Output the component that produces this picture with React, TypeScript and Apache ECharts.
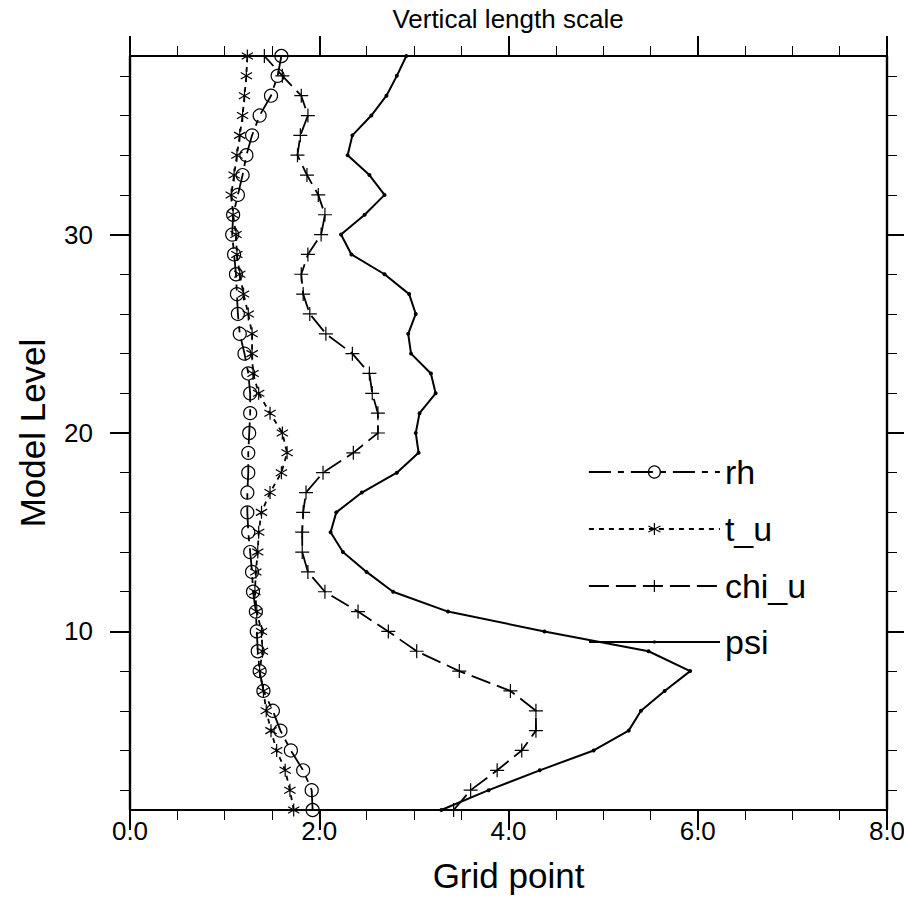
import React, { useEffect, useRef } from 'react';
import * as echarts from 'echarts';

const levels = [1, 2, 3, 4, 5, 6, 7, 8, 9, 10, 11, 12, 13, 14, 15, 16, 17, 18, 19, 20, 21, 22, 23, 24, 25, 26, 27, 28, 29, 30, 31, 32, 33, 34, 35, 36, 37, 38, 39];
const rh = [1.93, 1.92, 1.83, 1.70, 1.59, 1.51, 1.41, 1.37, 1.35, 1.34, 1.33, 1.30, 1.29, 1.27, 1.25, 1.24, 1.24, 1.25, 1.25, 1.26, 1.27, 1.27, 1.25, 1.21, 1.16, 1.14, 1.13, 1.12, 1.10, 1.08, 1.09, 1.14, 1.19, 1.23, 1.29, 1.37, 1.49, 1.56, 1.60];
const tU = [1.73, 1.69, 1.64, 1.55, 1.49, 1.44, 1.41, 1.37, 1.40, 1.39, 1.34, 1.32, 1.33, 1.35, 1.36, 1.39, 1.48, 1.60, 1.66, 1.61, 1.48, 1.36, 1.30, 1.29, 1.29, 1.25, 1.20, 1.16, 1.13, 1.12, 1.09, 1.07, 1.10, 1.13, 1.16, 1.19, 1.21, 1.23, 1.24];
const chiU = [3.42, 3.60, 3.88, 4.14, 4.29, 4.29, 4.02, 3.48, 3.03, 2.73, 2.41, 2.06, 1.88, 1.82, 1.82, 1.83, 1.86, 2.04, 2.36, 2.62, 2.62, 2.56, 2.53, 2.35, 2.07, 1.90, 1.83, 1.81, 1.88, 2.02, 2.06, 1.99, 1.87, 1.77, 1.80, 1.88, 1.81, 1.61, 1.42];
const psi = [3.29, 3.79, 4.33, 4.90, 5.27, 5.40, 5.65, 5.92, 5.48, 4.38, 3.36, 2.78, 2.50, 2.25, 2.12, 2.18, 2.45, 2.82, 3.05, 3.02, 3.06, 3.23, 3.18, 2.97, 2.94, 3.02, 2.95, 2.69, 2.34, 2.23, 2.48, 2.69, 2.53, 2.30, 2.35, 2.55, 2.71, 2.82, 2.92];

const seriesNames = ['rh', 't_u', 'chi_u', 'psi'];
const yMajorTicks = [10, 20, 30];
const yMinorTicks = [2, 4, 6, 8, 12, 14, 16, 18, 22, 24, 26, 28, 32, 34, 36, 38];

const FONT = '"Liberation Sans", Arial, Helvetica, sans-serif';
const ASTERISK = 'path://M0,-10L0,10M-8.66,-5L8.66,5M-8.66,5L8.66,-5';
const PLUS = 'path://M-10,0L10,0M0,-10L0,10';

const dashRh = [22, 7, 6, 7];
const dashTu = [5, 5];
const dashChi = [20, 7];

export default function App() {
  const ref = useRef<HTMLDivElement>(null);

  useEffect(() => {
    if (!ref.current) return;
    const chart = echarts.init(ref.current, null, { renderer: 'svg' });

    const axisLine = { show: true, onZero: false, lineStyle: { color: '#000', width: 2.2 } };
    const majorTick = { show: true, length: 20, lineStyle: { color: '#000', width: 2 } };
    const labelStyle = { fontSize: 26, color: '#000', fontFamily: FONT };
    const nameStyle = { fontSize: 35, color: '#000', fontFamily: FONT };

    const mkX = (pos: string, showLabel: boolean) => ({
      type: 'value', min: 0, max: 8, interval: 2, position: pos, gridIndex: 0,
      axisLine, axisTick: majorTick,
      minorTick: { show: true, splitNumber: 4, length: 10, lineStyle: { color: '#000', width: 1 } },
      splitLine: { show: false }, minorSplitLine: { show: false },
      axisLabel: showLabel
        ? { ...labelStyle, margin: 8, formatter: (v: number) => v.toFixed(1) }
        : { show: false },
      ...(showLabel
        ? { name: 'Grid point', nameLocation: 'middle', nameGap: 48, nameTextStyle: nameStyle }
        : {}),
    });

    const mkY = (pos: string, major: boolean, showLabel: boolean) => ({
      type: 'value', min: 1, max: 39, position: pos, gridIndex: 0,
      axisLine,
      axisTick: major
        ? { ...majorTick, customValues: yMajorTicks }
        : { show: true, length: 10, lineStyle: { color: '#000', width: 1 }, customValues: yMinorTicks },
      splitLine: { show: false },
      axisLabel: showLabel ? { ...labelStyle, margin: 37, customValues: yMajorTicks } : { show: false },
      ...(showLabel
        ? { name: 'Model Level', nameLocation: 'middle', nameGap: 80, nameRotate: 90, nameTextStyle: nameStyle }
        : {}),
    });

    const pts = (arr: number[]) => levels.map((l, i) => [arr[i], l]);
    const hollow = { color: 'rgba(0,0,0,0)', borderColor: '#000', borderWidth: 1.2 };

    const series: any[] = [
      {
        name: seriesNames[0], type: 'line', data: pts(rh), symbol: 'circle', symbolSize: 13, showAllSymbol: true,
        lineStyle: { color: '#000', width: 1.8, type: dashRh }, itemStyle: hollow, z: 3,
      },
      {
        name: seriesNames[1], type: 'line', data: pts(tU), symbol: ASTERISK, symbolSize: 13, symbolKeepAspect: true, showAllSymbol: true,
        lineStyle: { color: '#000', width: 1.8, type: dashTu }, itemStyle: hollow, z: 3,
      },
      {
        name: seriesNames[2], type: 'line', data: pts(chiU), symbol: PLUS, symbolSize: 14, symbolKeepAspect: true, showAllSymbol: true,
        lineStyle: { color: '#000', width: 1.8, type: dashChi }, itemStyle: hollow, z: 3,
      },
      {
        name: seriesNames[3], type: 'line', data: pts(psi), symbol: 'circle', symbolSize: 4, showAllSymbol: true,
        lineStyle: { color: '#000', width: 2, type: 'solid' }, itemStyle: { color: '#000', borderWidth: 0 }, z: 3,
      },
    ].map((s) => ({ ...s, xAxisIndex: 0, yAxisIndex: 0, clip: false, silent: true }));

    const legendCenters = [472, 529, 586, 642];
    const legendDash: any[] = [dashRh, dashTu, dashChi, 'solid'];
    const legend = seriesNames.map((n, i) => ({
      data: [n], left: 588, top: legendCenters[i] - 17, orient: 'vertical', padding: 0,
      itemWidth: 131, itemHeight: i === 3 ? 4 : 15, selectedMode: false,
      textStyle: { fontSize: 34, color: '#000', fontFamily: FONT },
      lineStyle: { color: '#000', width: i === 3 ? 2 : 1.8, type: legendDash[i] },
      itemStyle: i === 3 ? { color: '#000', borderWidth: 0 } : { color: 'rgba(0,0,0,0)', borderColor: '#000', borderWidth: 1.2 },
    }));

    chart.setOption({
      animation: false,
      backgroundColor: '#fff',
      grid: { left: 130, right: 17, top: 56, bottom: 114, containLabel: false, outerBoundsMode: 'none' },
      xAxis: [mkX('bottom', true), mkX('top', false)],
      yAxis: [mkY('left', true, true), mkY('left', false, false), mkY('right', true, false), mkY('right', false, false)],
      legend,
      series,
      graphic: [
        {
          type: 'text', x: 508, y: 19,
          style: { text: 'Vertical length scale', fontSize: 26, fontFamily: FONT, fill: '#000', align: 'center', verticalAlign: 'middle' },
          silent: true,
        },
      ],
    });

    return () => chart.dispose();
  }, []);

  return <div ref={ref} style={{ position: 'fixed', left: 0, top: 0, width: 904, height: 924 }} />;
}
